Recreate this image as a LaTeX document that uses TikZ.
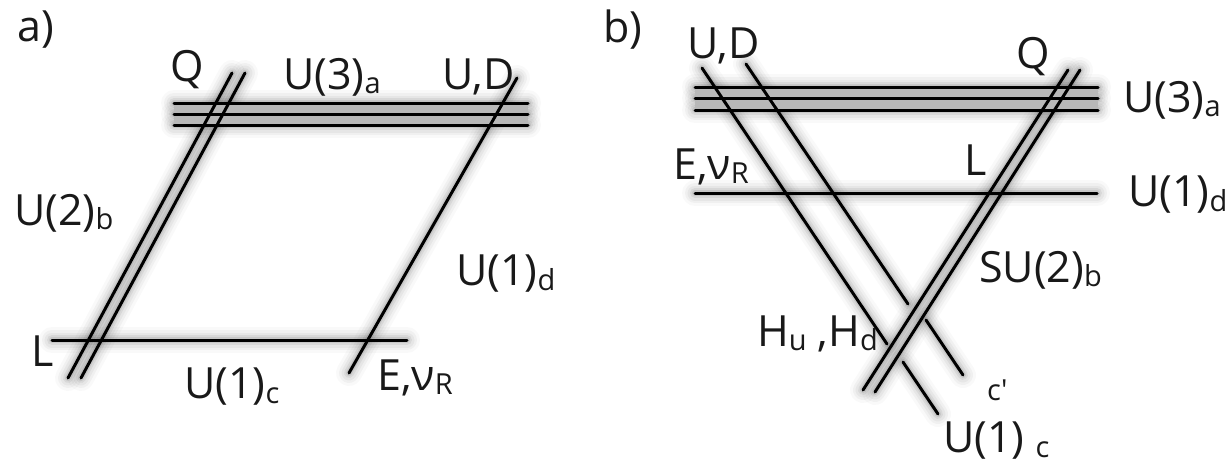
\documentclass[tikz,border=0pt]{standalone}
\usepackage{fontspec}
\setmainfont{Open Sans}
\tikzset{x=1pt,y=-1pt,
  brane/.style={line width=3pt,black,line cap=round},
  lab/.style={inner sep=0pt,anchor=west,font=\fontsize{43}{45}\selectfont,text=black!90}}
\newcommand{\dn}[1]{\raisebox{-0.1em}{\fontsize{29}{30}\selectfont #1}}
\newcommand{\shadowline}[2]{%
  \foreach \w/\o in {26/0.025,20/0.035,15/0.045,10/0.06,6/0.08}{
    \draw[line width=\w pt,black,opacity=\o,line cap=round,shift={(6,8)}] (#1) -- (#2);}}
\begin{document}
\begin{tikzpicture}
\useasboundingbox (0,0) rectangle (1227,467);
% panel a coordinates
\coordinate (a1l) at (174,103); \coordinate (a1r) at (528,103);
\coordinate (a2l) at (174,114); \coordinate (a2r) at (528,114);
\coordinate (a3l) at (174,125); \coordinate (a3r) at (528,125);
\coordinate (b1t) at (232,73);  \coordinate (b1b) at (68,378);
\coordinate (b2t) at (245,73);  \coordinate (b2b) at (81,378);
\coordinate (dt) at (517,78);   \coordinate (db) at (349,373);
\coordinate (cl) at (52,340);   \coordinate (cr) at (407,340);
% panel b coordinates
\coordinate (p1l) at (695,87);  \coordinate (p1r) at (1098,87);
\coordinate (p2l) at (695,98);  \coordinate (p2r) at (1098,98);
\coordinate (p3l) at (695,110); \coordinate (p3r) at (1098,110);
\coordinate (pdl) at (695,193); \coordinate (pdr) at (1097,193);
\coordinate (c1t) at (702,68);  \coordinate (c1b) at (887,344);
\coordinate (c1c) at (903,362); \coordinate (c1d) at (938,414);
\coordinate (c2t) at (746,64);  \coordinate (c2b) at (908,304);
\coordinate (c2c) at (926,320); \coordinate (c2d) at (963,375);
\coordinate (s1t) at (1068,70); \coordinate (s1b) at (863,390);
\coordinate (s2t) at (1080,70); \coordinate (s2b) at (875,392);
% shadows
\foreach \p/\q in {a1l/a1r,a2l/a2r,a3l/a3r,b1t/b1b,b2t/b2b,dt/db,cl/cr,
  p1l/p1r,p2l/p2r,p3l/p3r,pdl/pdr,c1t/c1b,c1c/c1d,c2t/c2b,c2c/c2d,s1t/s1b,s2t/s2b}{
  \shadowline{\p}{\q}}
\fill[black!28] (a1l) rectangle (a3r);
\fill[black!28] (p1l) rectangle (p3r);
% lines
\foreach \p/\q in {a1l/a1r,a2l/a2r,a3l/a3r,b1t/b1b,b2t/b2b,dt/db,cl/cr,
  p1l/p1r,p2l/p2r,p3l/p3r,pdl/pdr,c1t/c1b,c1c/c1d,c2t/c2b,c2c/c2d,s1t/s1b,s2t/s2b}{
  \draw[brane] (\p) -- (\q);}
% labels panel a
\node[lab] (ta) at (17,30) {a)};
\node[lab] (qa) at (170,70) {Q};
\node[lab] (u3a) at (283,77) {U(3)\dn{a}};
\node[lab] (uda) at (442,77) {U,D};
\node[lab] (u2b) at (14,213) {U(2)\dn{b}};
\node[lab] (u1d) at (456,274) {U(1)\dn{d}};
\node[lab] (la) at (31,351) {L};
\node[lab] (u1c) at (184,387) {U(1)\dn{c}};
\node[lab] (ena) at (377,378) {E,ν\dn{R}};
% labels panel b
\node[lab] (tb) at (603,30) {b)};
\node[lab] (udb) at (687,46) {U,D};
\node[lab] (qb) at (1016,57) {Q};
\node[lab] (u3b) at (1123,100) {U(3)\dn{a}};
\node[lab] (enb) at (673,167) {E,ν\dn{R}};
\node[lab] (lb) at (964,160) {L};
\node[lab] (u1db) at (1128,195) {U(1)\dn{d}};
\node[lab] (su2) at (979,270) {SU(2)\dn{b}};
\node[lab] (hh) at (757,334) {H\dn{u} ,H\dn{d}};
\node[lab,font=\fontsize{29}{30}\selectfont] (cp) at (987,390) {c′};
\node[lab] (u1cb) at (943,441) {U(1) \dn{c}};
\end{tikzpicture}
\end{document}
